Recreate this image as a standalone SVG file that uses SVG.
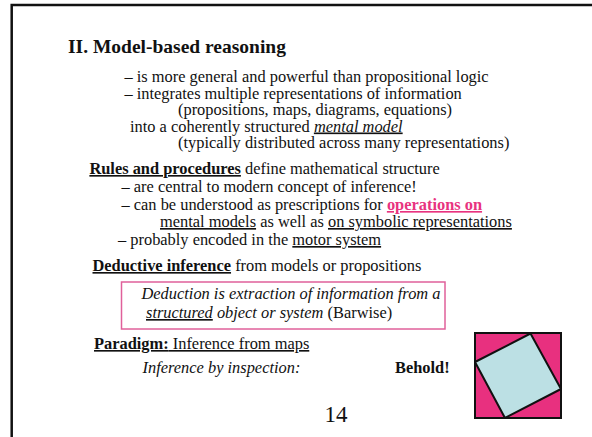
<svg xmlns="http://www.w3.org/2000/svg" width="592" height="437" viewBox="0 0 592 437">
<style>
text{font-family:"Liberation Serif","Times New Roman",serif;font-size:16.4px;fill:#111}
.b{font-weight:bold}
.i{font-style:italic}
.u{text-decoration:underline}
.pk{fill:#E8337F}
.title{font-size:19.5px;font-weight:bold}
.num{font-size:23px}
</style>
<rect width="592" height="437" fill="#fff"/>
<path d="M11.7,437 V5 H592" fill="none" stroke="#111" stroke-width="2.5"/>
<g id="title"><text class="title" x="68" y="53">II. Model-based reasoning</text></g>
<g id="intro">
<text x="124.5" y="82">– is more general and powerful than propositional logic</text>
<text x="124.5" y="98.5">– integrates multiple representations of information</text>
<text x="178" y="115">(propositions, maps, diagrams, equations)</text>
<text x="130" y="131.5">into a coherently structured <tspan class="i u">mental model</tspan></text>
<text x="178" y="148">(typically distributed across many representations)</text>
</g>
<g id="rules">
<text x="89.4" y="174"><tspan class="b u">Rules and procedures</tspan> define mathematical structure</text>
<text x="121.5" y="192">– are central to modern concept of inference!</text>
<text x="121.5" y="210">– can be understood as prescriptions for <tspan class="b u pk">operations on</tspan></text>
<text x="160" y="227"><tspan class="u">mental models</tspan> as well as <tspan class="u">on symbolic representations</tspan></text>
<text x="118" y="245">– probably encoded in the <tspan class="u">motor system</tspan></text>
</g>
<g id="deductive">
<text x="92.5" y="271"><tspan class="b u">Deductive inference</tspan> from models or propositions</text>
</g>
<g id="quote">
<rect x="121.5" y="282" width="323.5" height="47" fill="#fff" stroke="#E0609A" stroke-width="1.5"/>
<text class="i" x="141.5" y="299">Deduction is extraction of information from a</text>
<text x="146" y="318"><tspan class="i u">structured</tspan><tspan class="i"> object or system</tspan> (Barwise)</text>
</g>
<g id="paradigm">
<text class="u" x="94" y="349"><tspan class="b">Paradigm:</tspan> Inference from maps</text>
<text class="i" x="142.6" y="373">Inference by inspection:</text>
<text class="b" x="395" y="373">Behold!</text>
</g>
<g id="figure">
<rect x="475" y="333" width="86" height="85" fill="#E8307F" stroke="#111" stroke-width="2"/>
<polygon points="530.5,333.5 561,389 505,418 475,362" fill="#BCE0E4" stroke="#111" stroke-width="2" stroke-linejoin="round"/>
</g>
<g id="page"><text class="num" x="324.5" y="422">14</text></g>
</svg>
